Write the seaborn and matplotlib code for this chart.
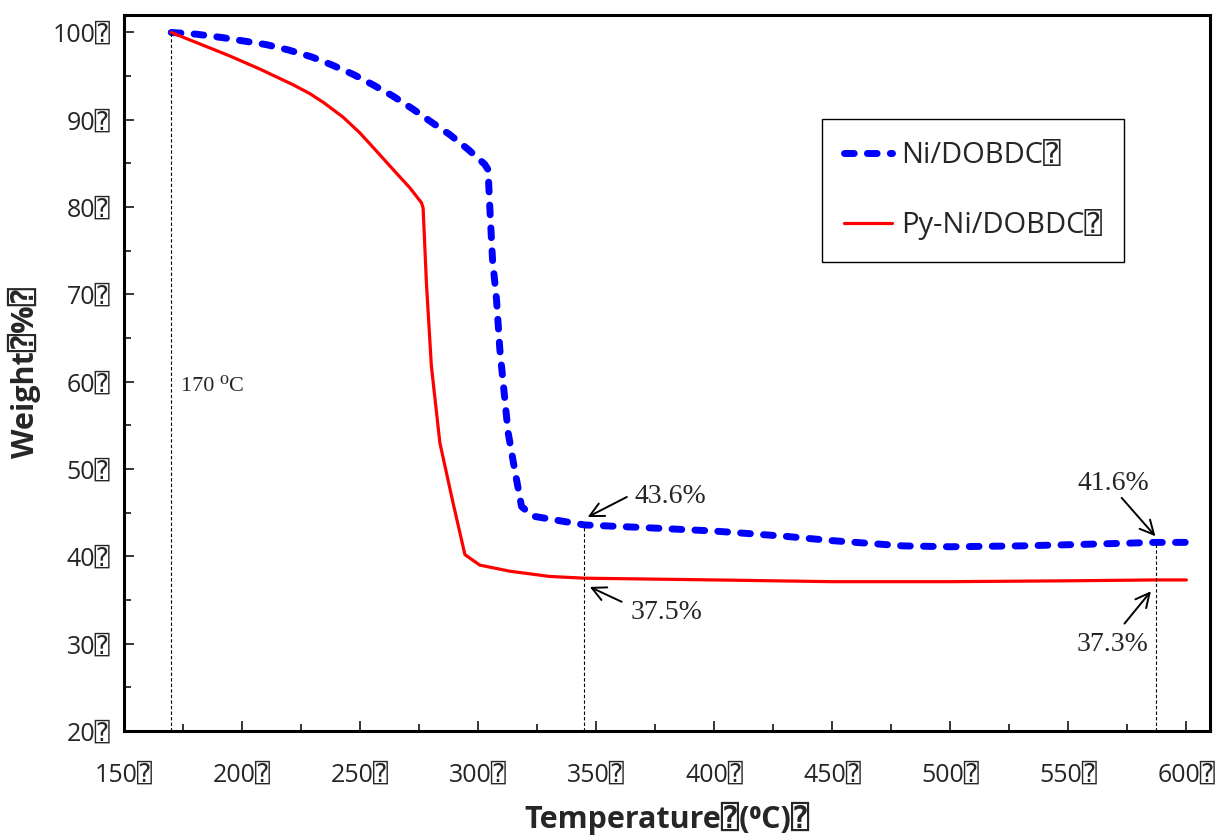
import numpy as np
import pandas as pd
import seaborn as sns
import matplotlib.pyplot as plt
from matplotlib.ticker import MultipleLocator

# Ni/DOBDC (blue dashed)
ni_temp = [170, 180.8, 192, 201.2, 210.4, 219.6, 229.5, 237.9, 247.1, 255.5, 264, 272.5,
           280.9, 288, 295.8, 302.8, 304.2, 305, 306.1, 307.8, 309.2, 310.9, 312.7, 315.5,
           318.4, 323.3, 345, 370, 400, 430, 450, 480, 500, 530, 560, 587, 600]
ni_weight = [100, 99.8, 99.4, 99.0, 98.6, 98.0, 97.2, 96.3, 95.2, 94.0, 92.7, 91.2,
             89.6, 88.3, 86.6, 84.9, 84.3, 79.7, 74.0, 69.4, 63.7, 59.1, 54.2, 49.9,
             45.7, 44.6, 43.6, 43.3, 42.9, 42.3, 41.8, 41.2, 41.1, 41.2, 41.4, 41.6, 41.6]

# Py-Ni/DOBDC (red solid)
py_temp = [170, 182, 194.9, 207.6, 221.7, 228.7, 234.4, 242.8, 249.9, 257, 264, 271.1,
           276, 276.7, 278.1, 280.2, 283.8, 289.4, 294.4, 300.7, 313.4, 330.3, 345,
           400, 450, 500, 550, 587, 600]
py_weight = [100, 98.7, 97.3, 95.8, 94.0, 93.0, 92.0, 90.3, 88.5, 86.4, 84.3, 82.2,
             80.5, 79.9, 71.3, 61.8, 53.0, 46.1, 40.2, 39.0, 38.3, 37.7, 37.5,
             37.3, 37.1, 37.1, 37.2, 37.3, 37.3]

x_ticks = [150, 200, 250, 300, 350, 400, 450, 500, 550, 600]
y_ticks = [20, 30, 40, 50, 60, 70, 80, 90, 100]
box = "\u2370"

# marked values and their labels
mark_labels = ["43.6%", "37.5%", "41.6%", "37.3%"]
# layout of the callouts: text centre, arrow start, arrow tip (data coords)
callouts = [((381.6, 46.8), (363.0, 46.8), (346.4, 44.5)),
            ((379.9, 33.6), (360.8, 34.8), (347.3, 36.5)),
            ((569.1, 48.4), (572.6, 46.7), (586.9, 42.3)),
            ((568.7, 29.9), (573.8, 32.3), (585.0, 36.0))]

sns.set_theme(style="ticks")
plt.rcParams['font.family'] = ['Open Sans', 'DejaVu Sans', 'DejaVu Sans Mono']
serif = ['Liberation Serif', 'DejaVu Serif']

fig = plt.figure(figsize=(12.29, 8.38), dpi=100)
ax = fig.add_axes([0.1009, 0.1277, 0.8836, 0.8544])

sns.lineplot(x=ni_temp, y=ni_weight, ax=ax, color="#0000ff", lw=5, sort=False,
             label="Ni/DOBDC" + box, dash_capstyle="round")
ax.lines[-1].set_dashes((1.4, 1.9))
sns.lineplot(x=py_temp, y=py_weight, ax=ax, color="#ff0000", lw=2.3, sort=False,
             label="Py-Ni/DOBDC" + box)

# guide lines
ax.plot([170, 170], [20, 100], color="black", lw=0.8, ls=(0, (3, 2)))
ax.plot([345, 345], [20, 43.6], color="black", lw=0.8, ls=(0, (3, 2)))
ax.plot([587, 587], [20, 41.6], color="black", lw=0.8, ls=(0, (3, 2)))
ax.text(174, 59.4, "170 \u2070C", family=serif, fontsize=16, va="center")

for lab, (txt, start, tip) in zip(mark_labels, callouts):
    ax.text(txt[0], txt[1], lab, family=serif, fontsize=20, ha="center", va="center")
    ax.annotate("", xy=tip, xytext=start,
                arrowprops=dict(arrowstyle="->,head_length=0.5,head_width=0.25",
                                color="black", lw=1.4, shrinkA=0, shrinkB=0,
                                mutation_scale=20))

ax.set_xlim(150, 610)
ax.set_ylim(20, 102)
ax.set_xticks(x_ticks)
ax.set_xticklabels([f"{v}{box}" for v in x_ticks])
ax.set_yticks(y_ticks)
ax.set_yticklabels([f"{v}{box}" for v in y_ticks])
ax.xaxis.set_minor_locator(MultipleLocator(25))
ax.yaxis.set_minor_locator(MultipleLocator(5))
ax.tick_params(which="both", direction="in", labelsize=18, color="black", width=1.1)
ax.tick_params(which="major", length=7)
ax.tick_params(which="minor", length=5)
ax.tick_params(axis="x", pad=23)
ax.tick_params(axis="y", pad=10)
for s in ax.spines.values():
    s.set_visible(True)
    s.set_linewidth(2.2)
    s.set_color("black")

ax.set_xlabel("Temperature" + box + "(\u2070C)" + box, fontsize=22, fontweight="bold", labelpad=10)
ax.set_ylabel("Weight" + box + "%" + box, fontsize=22, fontweight="bold", labelpad=8)

leg = ax.legend(loc="upper left", bbox_to_anchor=(0.669, 0.858), bbox_transform=fig.transFigure,
                fontsize=21, frameon=True, fancybox=False, framealpha=1, edgecolor="black",
                handlelength=1.65, handletextpad=0.3, labelspacing=1.35, borderpad=0.75,
                borderaxespad=0)
leg.get_frame().set_linewidth(1.0)

fig.savefig("out.png", dpi=100)
